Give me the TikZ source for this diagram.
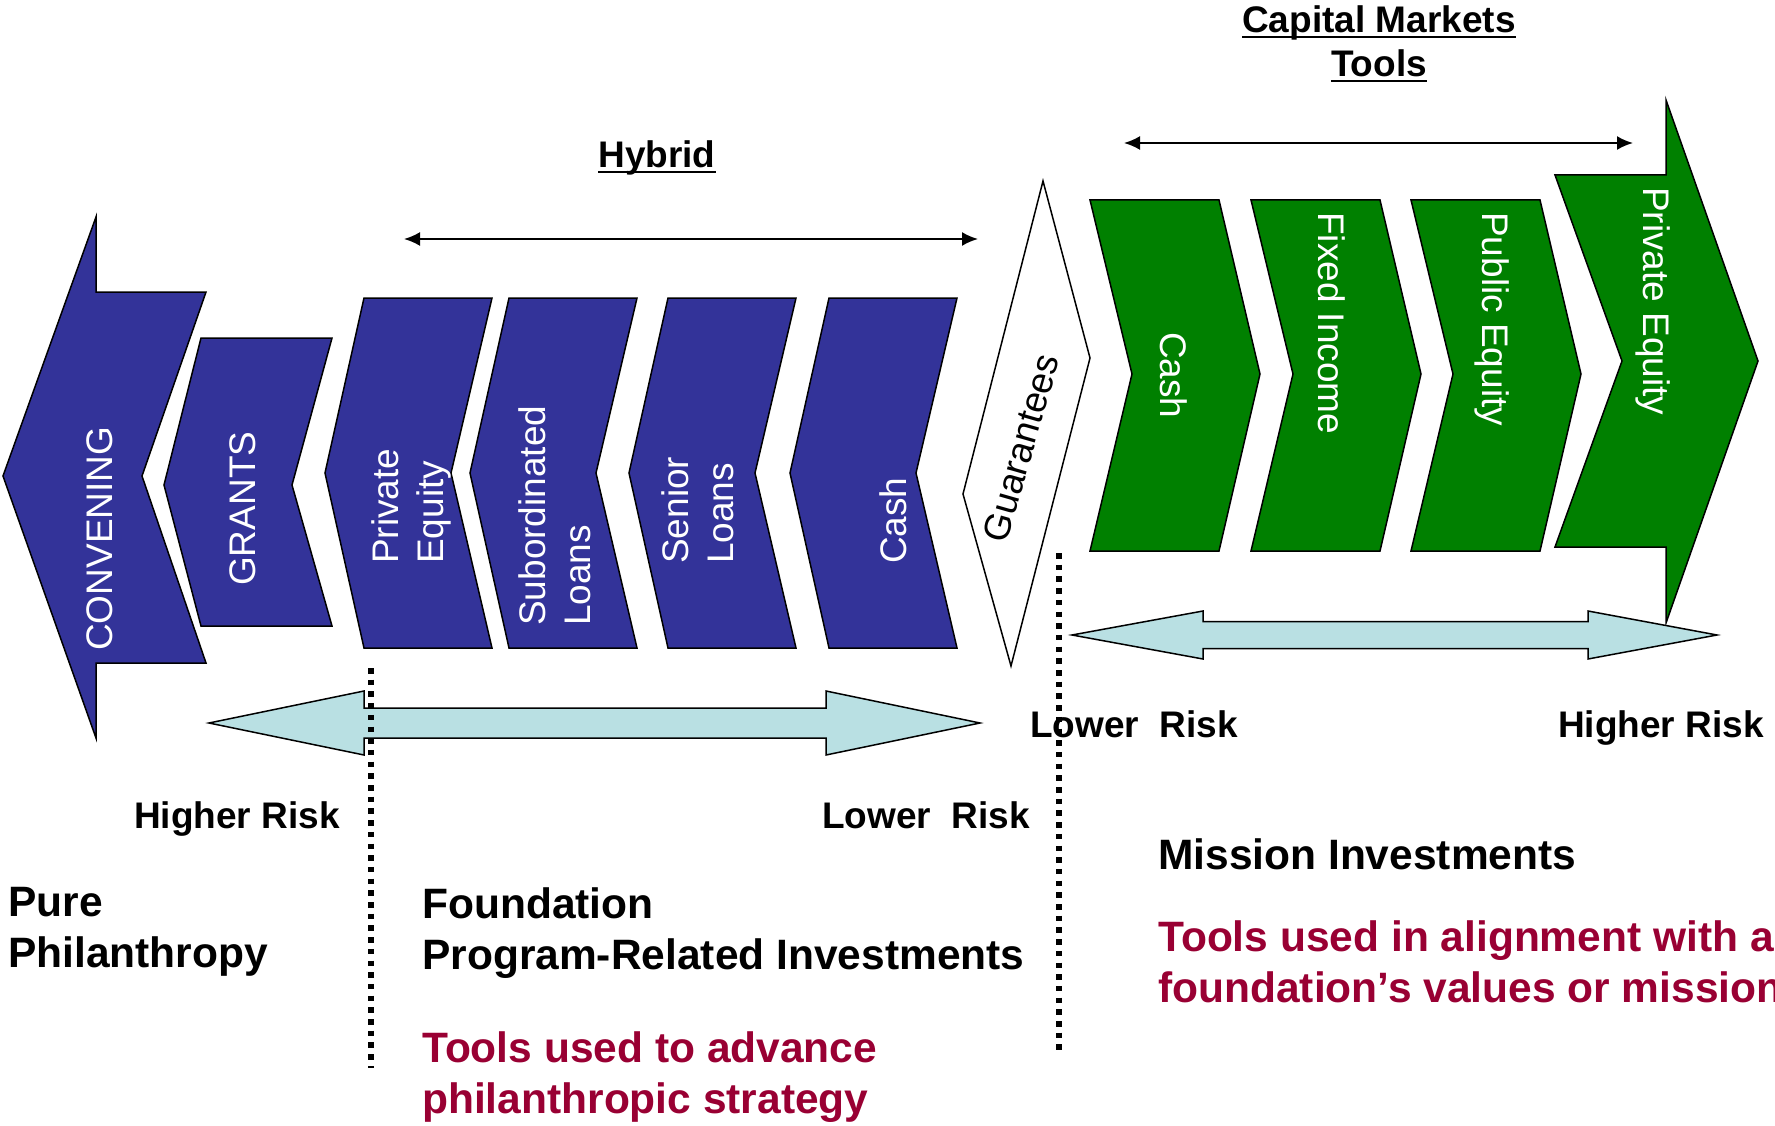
\documentclass[tikz,border=0pt]{standalone}
\usepackage{fontspec}
\setmainfont{Liberation Sans}
\usetikzlibrary{arrows.meta}

\definecolor{toolblue}{RGB}{51,51,153}
\definecolor{toolgreen}{RGB}{0,128,0}
\definecolor{riskblue}{RGB}{185,224,227}
\definecolor{notered}{RGB}{153,0,51}

\begin{document}
\begin{tikzpicture}[x=1pt,y=-1pt,>={Latex[length=16pt,width=14pt]},
	outline/.style={draw=black,line width=1.5pt}, % all arrows and chevrons
	tool/.style={text=white,inner sep=0pt,align=left,font=\fontsize{37}{45}\selectfont},
	title/.style={inner sep=0pt,font=\fontsize{37}{44}\selectfont\bfseries},
	note/.style={inner sep=0pt,align=left,font=\fontsize{42.5}{51}\selectfont\bfseries},
	divider/.style={line width=5.5pt,dash pattern=on 5.5pt off 6.2pt},
]
	\useasboundingbox (0,0) rectangle (1775,1126);

	% headings
	\node[title,anchor=base] (capital) at (1379,33) {Capital Markets};
	\node[title,anchor=base] (tools) at (1379,77) {Tools};
	\node[title,anchor=base] (hybrid) at (657,168) {Hybrid};
	\foreach \n in {capital,tools,hybrid}{
		\draw[line width=2.5pt] ([yshift=-4pt]\n.base west) -- ([yshift=-4pt]\n.base east);
	}

	\coordinate (hyb-l) at (404,239);
	\coordinate (hyb-r) at (978,239);
	\coordinate (cap-l) at (1124,143);
	\coordinate (cap-r) at (1633,143);
	\draw[<->,line width=2pt] (hyb-l) -- (hyb-r);
	\draw[<->,line width=2pt] (cap-l) -- (cap-r);

	% philanthropy side
	\draw[outline,fill=toolblue] (3,476) -- (96,217) -- (96,292) -- (206,292) -- (142,476)
		-- (206,663) -- (96,663) -- (96,738) -- cycle;
	\draw[outline,fill=toolblue] (201,338) -- (332,338) -- (292,485) -- (332,626)
		-- (201,626) -- (164,485) -- cycle;
	\foreach \x in {364,509,668,829}{
		\draw[outline,fill=toolblue] (\x,298) -- ++(128,0) -- ++(-41,175) -- ++(41,175)
			-- ++(-128,0) -- ++(-39,-175) -- cycle;
	}
	\node[tool,rotate=90,anchor=west] (conv) at (100,651) {CONVENING};
	\node[tool,rotate=90,anchor=west] (grants) at (243,586) {GRANTS};
	\node[tool,rotate=90,anchor=west] (pe-b) at (411,564) {Private\\Equity};
	\node[tool,rotate=90,anchor=west] (sub) at (555,626) {Subordinated\\Loans};
	\node[tool,rotate=90,anchor=west] (sen) at (698,564) {Senior\\Loans};
	\node[tool,rotate=90,anchor=west] (cash-b) at (893,564) {Cash};

	% guarantees
	\draw[outline,fill=white] (1043,181) -- (1090,358) -- (1011,666) -- (963,494) -- cycle;
	\node[inner sep=0pt,font=\fontsize{37}{45}\selectfont,rotate=74] (guar) at (1021,448) {Guarantees};

	% capital markets side
	\foreach \x in {1090,1251,1411}{
		\draw[outline,fill=toolgreen] (\x,200) -- ++(129,0) -- ++(41,174) -- ++(-41,177)
			-- ++(-129,0) -- ++(42,-177) -- cycle;
	}
	\draw[outline,fill=toolgreen] (1555,175) -- (1666,175) -- (1666,100) -- (1758,361)
		-- (1666,623) -- (1666,547) -- (1555,547) -- (1622,361) -- cycle;
	\node[tool,rotate=-90,anchor=west] (cash-g) at (1174,332) {Cash};
	\node[tool,rotate=-90,anchor=west] (fixed) at (1332,212) {Fixed Income};
	\node[tool,rotate=-90,anchor=west] (pub) at (1492,212) {Public Equity};
	\node[tool,rotate=-90,anchor=west] (pe-g) at (1653,187) {Private Equity};

	% risk scales
	\draw[outline,fill=riskblue] (209,723) -- (364,691) -- (364,708) -- (826,708) -- (826,691)
		-- (980,723) -- (826,755) -- (826,738) -- (364,738) -- (364,755) -- cycle;
	\draw[outline,fill=riskblue] (1072,635) -- (1203,611) -- (1203,621.5) -- (1588,621.5) -- (1588,611)
		-- (1717,635) -- (1588,659) -- (1588,648.5) -- (1203,648.5) -- (1203,659) -- cycle;
	\node[title,anchor=base east] (hi-l) at (340,828) {Higher Risk};
	\node[title,anchor=base east] (lo-l) at (1030,828) {Lower\ \ Risk};
	\node[title,anchor=base west] (lo-r) at (1030,737) {Lower\ \ Risk};
	\node[title,anchor=base east] (hi-r) at (1764,737) {Higher Risk};

	\draw[divider] (371,668) -- (371,1068);
	\draw[divider] (1059,553) -- (1059,1055);

	% groups
	\node[note,anchor=north west] (pure) at (8,887) {Pure\\Philanthropy};
	\node[note,anchor=north west] (pri) at (422,887) {Foundation\\Program-Related Investments};
	\node[note,anchor=north west,text=notered] (pri-note) at (422,1031) {Tools used to advance\\philanthropic strategy};
	\node[note,anchor=base west] (mission) at (1158,869) {Mission Investments};
	\node[note,anchor=north west,text=notered] (mission-note) at (1158,920) {Tools used in alignment with a\\foundation’s values or mission};

\end{tikzpicture}
\end{document}
